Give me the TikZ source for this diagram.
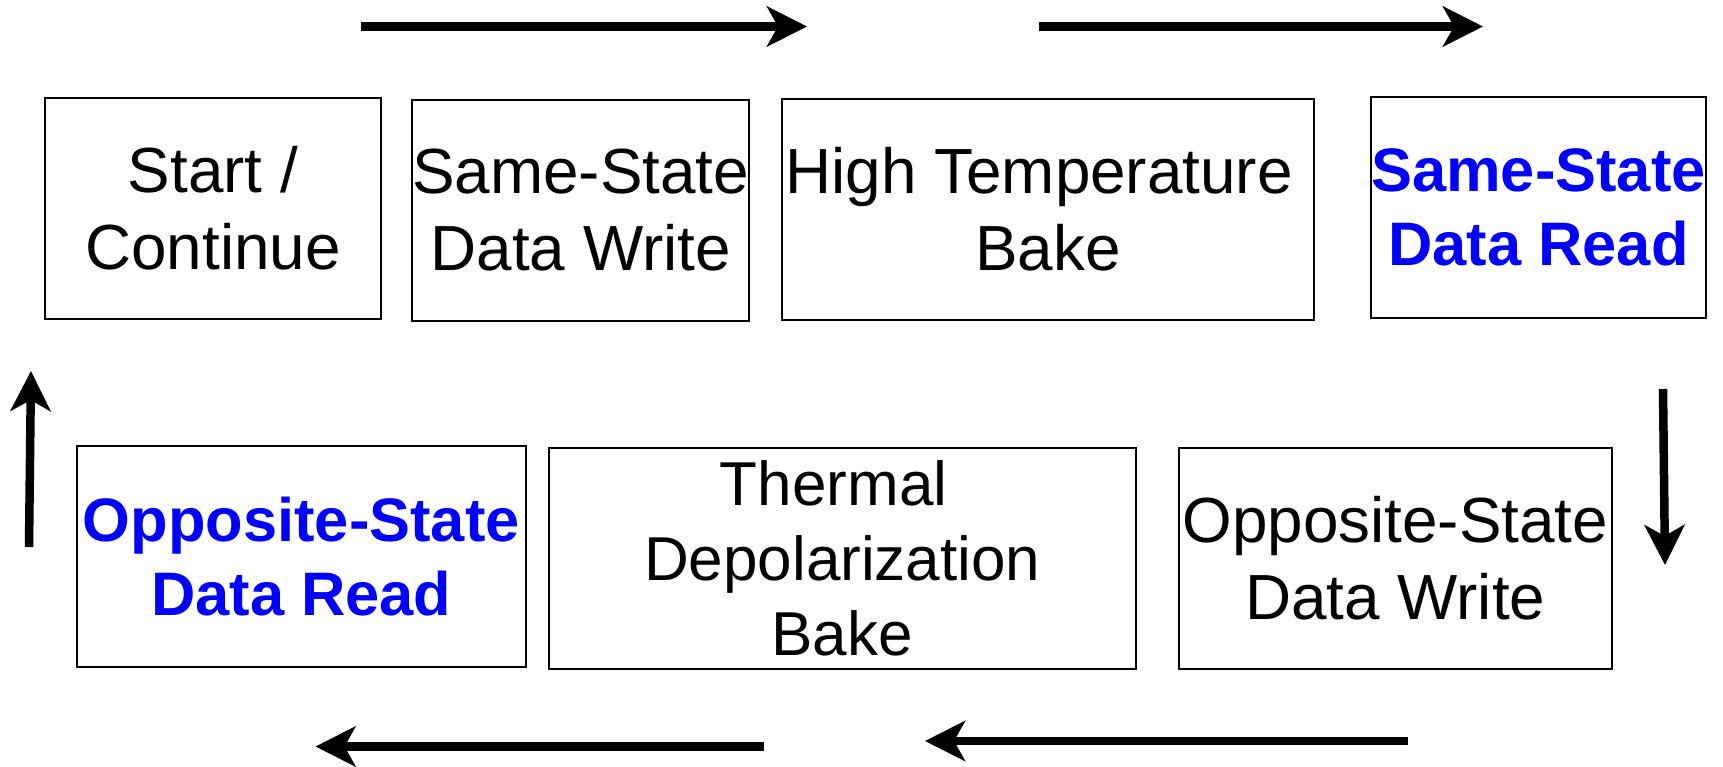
\documentclass[tikz,border=0pt]{standalone}
\usepackage{fontspec}
\setmainfont{Liberation Sans}
\usetikzlibrary{arrows.meta}
\definecolor{tblue}{RGB}{0,0,255}
\tikzset{
  stepbox/.style={draw=black, line width=2pt, inner sep=0pt, align=center, fill=white,
    font=\fontsize{63.8}{77}\selectfont},
  boldbox/.style={stepbox, text=tblue, font=\fontsize{61.4}{74}\selectfont\bfseries},
  flow/.style={line width=8.5pt, -{Stealth[length=40pt, width=40pt, inset=11pt]}}
}
\begin{document}
\begin{tikzpicture}[x=1pt, y=-1pt]
\useasboundingbox (0,0) rectangle (1723,767);
\node[stepbox, minimum width=336pt, minimum height=221pt] (start) at (213,208.5) {Start /\\Continue};
\node[stepbox, minimum width=336.5pt, minimum height=221pt] (ssw) at (580.75,210.5) {Same-State\\Data Write};
\node[stepbox, minimum width=532pt, minimum height=221pt] (htb) at (1048,209.5) {High Temperature\kern0.278em\\Bake};
\node[boldbox, minimum width=335pt, minimum height=221pt] (ssr) at (1538.5,207.5) {Same-State\\Data Read};
\node[boldbox, minimum width=448.5pt, minimum height=221pt] (osr) at (301.25,556.5) {Opposite-State\\Data Read};
\node[stepbox, font=\fontsize{62}{75}\selectfont, minimum width=587.5pt, minimum height=221pt] (tdb) at (842.25,558.5) {Thermal\kern0.278em\\Depolarization\\Bake};
\node[stepbox, minimum width=432.5pt, minimum height=221pt] (osw) at (1395.25,558.5) {Opposite-State\\Data Write};
\coordinate (t1a) at (361,26.5);
\coordinate (t1b) at (807,26.5);
\coordinate (t2a) at (1039,26.5);
\coordinate (t2b) at (1483,26.5);
\coordinate (da) at (1663,389);
\coordinate (db) at (1665,565);
\coordinate (b1a) at (1407.5,741);
\coordinate (b1b) at (925,741);
\coordinate (b2a) at (764,746.5);
\coordinate (b2b) at (315.5,746.5);
\coordinate (ua) at (29,547);
\coordinate (ub) at (31,371);
\draw[flow] (t1a) -- (t1b);
\draw[flow] (t2a) -- (t2b);
\draw[flow] (da) -- (db);
\draw[flow] (b1a) -- (b1b);
\draw[flow] (b2a) -- (b2b);
\draw[flow] (ua) -- (ub);
\end{tikzpicture}
\end{document}
